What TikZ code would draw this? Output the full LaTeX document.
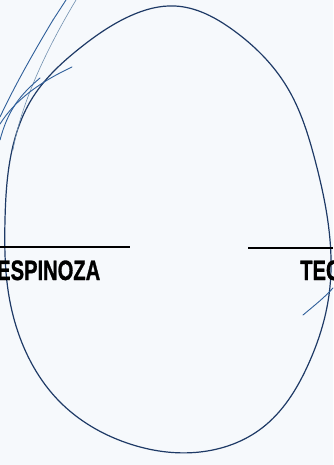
\documentclass[tikz,border=0pt]{standalone}
\usepackage{fontspec}
\setmainfont{Liberation Sans}
\newfontfamily\labelfont{Liberation Sans}[BoldFeatures={FakeBold=1.2}]
\usetikzlibrary{hobby}
\definecolor{paper}{HTML}{F6F9FC}
\definecolor{ink}{HTML}{1E3A66}
\definecolor{pen}{HTML}{2F5F9A}
\definecolor{pengrey}{HTML}{6F8FAF}
\tikzset{
  eggline/.style={draw=ink, line width=1.2pt},
  penline/.style={draw=pen, line width=0.9pt, line cap=round},
  penthin/.style={draw=pengrey, line width=0.6pt, line cap=round},
  rule/.style={draw=black, line width=2pt},
  label/.style={anchor=base west, inner sep=0pt, font=\labelfont\bfseries\fontsize{28}{28}\selectfont}
}
\begin{document}
\begin{tikzpicture}[x=1pt,y=-1pt]
\fill[paper] (0,0) rectangle (333,465);
\useasboundingbox (0,0) rectangle (333,465);
% egg outline
\draw[eggline, use Hobby shortcut, closed=true]
 (175,6) .. (233,30) .. (287,87) .. (315,160) .. (329,230) .. (329,295)
 .. (308,365) .. (262,428) .. (200,452) .. (127,443) .. (60,402)
 .. (25,350) .. (8,290) .. (5,220) .. (12,150) .. (33,97) .. (80,48) .. (130,16);
% pen strokes top-left
\draw[penline] (53,20) .. controls (35,50) and (15,85) .. (0,117);
\draw[penline] (66,0) -- (53,20);
\draw[penthin] (76,0) .. controls (40,60) and (20,110) .. (13,150);
\draw[penline] (72,67) .. controls (40,82) and (15,100) .. (0,124);
\draw[penline] (40,78) .. controls (20,95) and (8,110) .. (0,140);
% pen stroke right
\draw[penline] (303,315) .. controls (315,305) and (325,297) .. (333,288);
% rules
\draw[rule] (0,247) -- (130,247);
\draw[rule] (248,248) -- (333,248);
% labels
\node[label] (esp) at (-3,280) {\scalebox{0.72}[1]{ESPINOZA}};
\node[label] (tec) at (300,280) {\scalebox{0.72}[1]{TEC}};
\end{tikzpicture}
\end{document}
